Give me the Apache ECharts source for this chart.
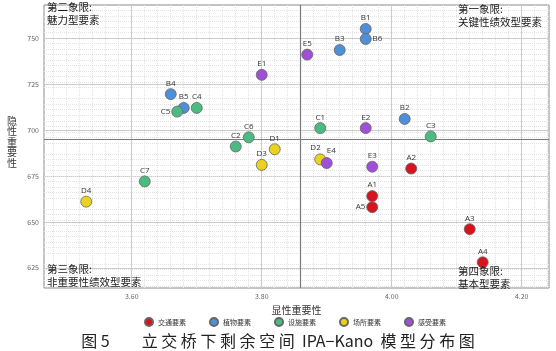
<!DOCTYPE html>
<html>
<head>
<meta charset="utf-8">
<script src="https://cdn.jsdelivr.net/npm/echarts@6/dist/echarts.min.js"></script>
<style>
    html, body { margin: 0; padding: 0; background: #fff; }
    #chart { width: 556px; height: 351px; }
</style>
</head>
<body>
<div id="chart"></div>
<script>
// 分类
var categories = ['交通要素', '植物要素', '设施要素', '场所要素', '感受要素'];
var colors = ['#d7141e', '#4f8fd8', '#4cbb82', '#ebd21e', '#9f4fd8'];

// 各要素编号 / 显性重要性 / 隐性重要性
var namesA = ['A1', 'A2', 'A3', 'A4', 'A5'];
var xA = [3.97, 4.03, 4.12, 4.14, 3.97];
var yA = [664, 679, 646, 628, 658];

var namesB = ['B1', 'B2', 'B3', 'B4', 'B5', 'B6'];
var xB = [3.96, 4.02, 3.92, 3.66, 3.68, 3.96];
var yB = [755, 706, 743.5, 719.5, 712, 749.5];

var namesC = ['C1', 'C2', 'C3', 'C4', 'C5', 'C6', 'C7'];
var xC = [3.89, 3.76, 4.06, 3.70, 3.67, 3.78, 3.62];
var yC = [701, 691, 696.5, 712, 710, 696, 672];

var namesD = ['D1', 'D2', 'D3', 'D4'];
var xD = [3.82, 3.89, 3.80, 3.53];
var yD = [689.5, 684, 681, 661];

var namesE = ['E1', 'E2', 'E3', 'E4', 'E5'];
var xE = [3.80, 3.96, 3.97, 3.90, 3.87];
var yE = [730, 701, 680, 682, 741];

// 刻度
var xTicks = [3.6, 3.8, 4.0, 4.2];
var yTicks = [625, 650, 675, 700, 725, 750];

// 象限分界
var xMean = 3.862;
var yMean = 695;

// 纵轴标题（竖排）
var yTitle = ['隐', '性', '重', '要', '性'];

// 个别标签位置
var labelPos = { C5: 'left', B6: 'right', A5: 'left' };

var groups = [[namesA, xA, yA], [namesB, xB, yB], [namesC, xC, yC], [namesD, xD, yD], [namesE, xE, yE]];

function buildData(g) {
    return g[0].map(function (n, i) {
        var item = { name: n, value: [g[1][i], g[2][i]] };
        if (labelPos[n]) {
            item.label = { position: labelPos[n], distance: 1 };
        }
        if (n === 'E4') {
            item.label = { position: [6, -10] };
        }
        if (n === 'D2') {
            item.label = { position: [-4, -10] };
        }
        return item;
    });
}

var series = groups.map(function (g, i) {
    var s = {
        name: categories[i],
        type: 'scatter',
        symbolSize: 11,
        itemStyle: { color: colors[i], borderColor: '#666', borderWidth: 0.8, opacity: 1 },
        label: {
            show: true,
            formatter: '{b}',
            position: 'top',
            distance: 1,
            fontSize: 8,
            color: '#333',
            fontFamily: 'Open Sans'
        },
        data: buildData(g),
        z: 5
    };
    if (i === 0) {
        s.markLine = {
            silent: true,
            symbol: 'none',
            label: { show: false },
            lineStyle: { color: '#7a7a7a', type: 'solid', width: 1.2 },
            data: [{ xAxis: xMean }, { yAxis: yMean }],
            z: 1
        };
    }
    return s;
});

var quadStyle = { fontSize: 10.5, fill: '#1a1a1a', lineHeight: 13, fontFamily: 'Noto Sans CJK SC' };

// 竖排标题逐字放置
var graphics = yTitle.map(function (ch, i) {
    return {
        type: 'text', x: 7, y: 116 + i * 10.5, z: 10,
        style: { text: ch, fontSize: 10, fill: '#333', fontFamily: 'Noto Sans CJK SC' }
    };
});
graphics.push(
    { type: 'text', left: 47, top: 1, z: 10, style: Object.assign({ text: '第二象限:\n魅力型要素' }, quadStyle) },
    { type: 'text', left: 458, top: 3, z: 10, style: Object.assign({ text: '第一象限:\n关键性绩效型要素' }, quadStyle) },
    { type: 'text', left: 47, top: 263, z: 10, style: Object.assign({ text: '第三象限:\n非重要性绩效型要素' }, quadStyle) },
    { type: 'text', left: 458, top: 265, z: 10, style: Object.assign({ text: '第四象限:\n基本型要素' }, quadStyle) }
);

var myChart = echarts.init(document.getElementById('chart'));
var option = {
    animation: false,
    color: colors,
    textStyle: { fontFamily: 'Noto Sans CJK SC' },
    grid: {
        left: 44, right: 7, top: 5, bottom: 63,
        show: true, borderColor: '#8a8a8a', borderWidth: 1, backgroundColor: '#fff'
    },
    title: {
        text: '图 5　　立 交 桥 下 剩 余 空 间  IPA−Kano  模 型 分 布 图',
        left: 'center',
        bottom: -3,
        textStyle: { fontSize: 16, fontWeight: 'normal', color: '#222', fontFamily: 'Noto Sans CJK SC' }
    },
    legend: {
        data: categories,
        top: 312,
        left: 139,
        icon: 'circle',
        itemWidth: 8,
        itemHeight: 8,
        itemGap: 23,
        textStyle: { fontSize: 7, color: '#333' }
    },
    xAxis: {
        type: 'value',
        min: 3.465,
        max: 4.242,
        name: '显性重要性',
        nameLocation: 'middle',
        nameGap: 14,
        nameTextStyle: { fontSize: 10, color: '#333' },
        axisLine: { show: false },
        axisTick: { show: false, customValues: xTicks },
        axisLabel: {
            customValues: xTicks, fontSize: 7, color: '#666', margin: 5,
            formatter: function (v) { return v.toFixed(2); }
        },
        splitLine: { show: true, lineStyle: { color: '#cccccc', width: 1 } },
        minorTick: { show: false, splitNumber: 10 },
        minorSplitLine: { show: true, lineStyle: { color: '#e3e3e3', type: 'dotted', width: 1 } }
    },
    yAxis: {
        type: 'value',
        min: 614,
        max: 768,
        axisLine: { show: false },
        axisTick: { show: false, customValues: yTicks },
        axisLabel: { customValues: yTicks, fontSize: 7, color: '#666', margin: 5 },
        splitLine: { show: true, lineStyle: { color: '#cccccc', width: 1 } },
        minorTick: { show: false, splitNumber: 10 },
        minorSplitLine: { show: true, lineStyle: { color: '#e3e3e3', type: 'dotted', width: 1 } }
    },
    graphic: graphics,
    series: series
};
myChart.setOption(option);
</script>
</body>
</html>
